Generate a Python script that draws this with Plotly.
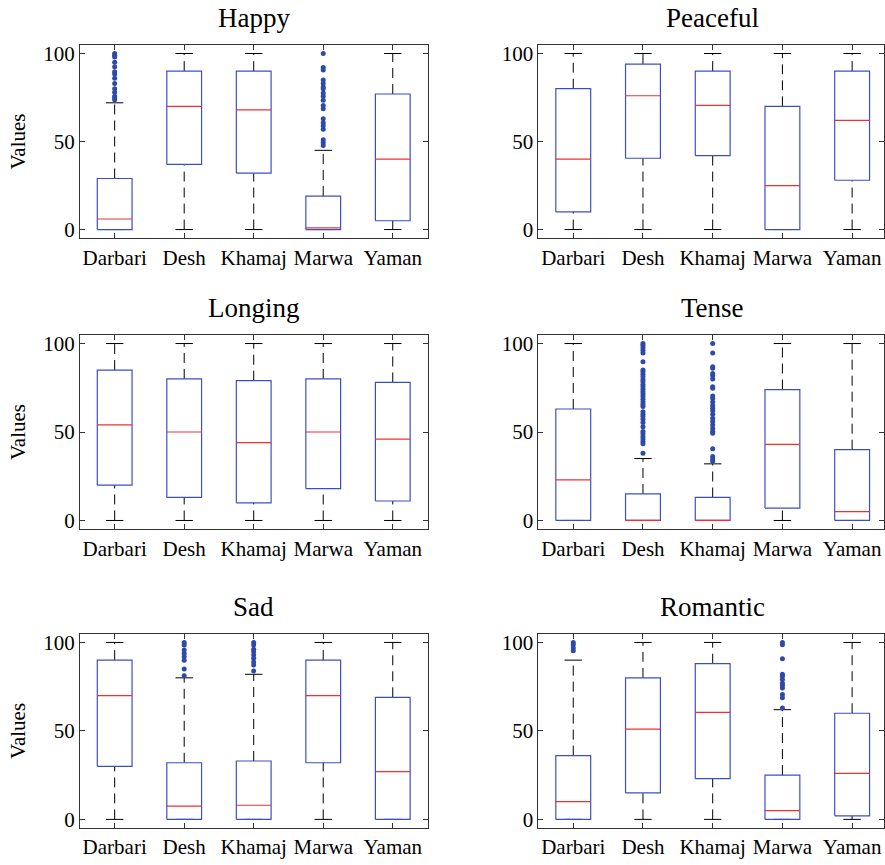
import plotly.graph_objects as go

categories = ["Darbari", "Desh", "Khamaj", "Marwa", "Yaman"]
panels = ["Happy", "Peaceful", "Longing", "Tense", "Sad", "Romantic"]
y_ticks = [0, 50, 100]

# ---- Happy ----
happy_q1 = [0, 37, 32, 0, 5]
happy_median = [6, 70, 68, 1, 40]
happy_q3 = [29, 90, 90, 19, 77]
happy_lower = [0, 0, 0, 0, 0]
happy_upper = [72, 100, 100, 45, 100]
happy_outliers = [
    [100, 99, 98, 95, 92.5, 89.7, 88.4, 86, 83, 80, 78, 75.7, 74.8, 73.8],
    [], [],
    [100, 92, 90.6, 85, 83, 81, 80, 77.6, 75.7, 73.5, 70.5, 68.6, 63, 60.7, 59, 57, 51, 49.5, 47.7],
    [],
]

# ---- Peaceful ----
peaceful_q1 = [10, 40.5, 42, 0, 28]
peaceful_median = [40, 76, 70.5, 25, 62]
peaceful_q3 = [80, 94, 90, 70, 90]
peaceful_lower = [0, 0, 0, 0, 0]
peaceful_upper = [100, 100, 100, 100, 100]
peaceful_outliers = [[], [], [], [], []]

# ---- Longing ----
longing_q1 = [20, 13, 10, 18, 11]
longing_median = [54, 50, 44, 50, 46]
longing_q3 = [85, 80, 79, 80, 78]
longing_lower = [0, 0, 0, 0, 0]
longing_upper = [100, 100, 100, 100, 100]
longing_outliers = [[], [], [], [], []]

# ---- Tense ----
tense_q1 = [0, 0, 0, 7, 0]
tense_median = [23, 0, 0, 43, 5]
tense_q3 = [63, 15, 13, 74, 40]
tense_lower = [0, 0, 0, 0, 0]
tense_upper = [100, 35, 32, 100, 100]
tense_outliers = [
    [],
    [100, 99, 97.6, 96.2, 94.7, 89.7, 85, 84, 82.6, 81.2, 79.7, 78.4, 76.9, 75.6, 74.1,
     72.8, 71.5, 70, 68.5, 67, 65.7, 64.4, 61.5, 60, 58.7, 57.2, 55.3, 53, 50.3, 49,
     47.5, 46, 44.7, 43.3, 38],
    [100, 94.7, 86.9, 86, 83, 82, 80, 75.6, 74.7, 70.4, 69, 67, 65, 63.4, 62, 60, 57.8,
     56, 54, 52, 50.3, 49.3, 40.5, 36.2, 34.7, 33.4],
    [], [],
]

# ---- Sad ----
sad_q1 = [30, 0, 0, 32, 0]
sad_median = [70, 7.5, 8, 70, 27]
sad_q3 = [90, 32, 33, 90, 69]
sad_lower = [0, 0, 0, 0, 0]
sad_upper = [100, 80, 82, 100, 100]
sad_outliers = [
    [],
    [100, 98.5, 95.7, 93.8, 91.9, 90, 85, 81.2],
    [100, 98.5, 96.2, 94.7, 92.9, 91, 89, 87.2, 83.9],
    [], [],
]

# ---- Romantic ----
romantic_q1 = [0, 15, 23, 0, 2]
romantic_median = [10, 51, 60.5, 5, 26]
romantic_q3 = [36, 80, 88, 25, 60]
romantic_lower = [0, 0, 0, 0, 0]
romantic_upper = [90, 100, 100, 62, 100]
romantic_outliers = [
    [100, 98.7, 96.8, 95.3],
    [], [],
    [100, 98.7, 90.8, 82, 80.9, 79, 77, 75.8, 74.3, 70.6, 68.7, 63],
    [],
]

panel_data = [
    (happy_q1, happy_median, happy_q3, happy_lower, happy_upper, happy_outliers),
    (peaceful_q1, peaceful_median, peaceful_q3, peaceful_lower, peaceful_upper, peaceful_outliers),
    (longing_q1, longing_median, longing_q3, longing_lower, longing_upper, longing_outliers),
    (tense_q1, tense_median, tense_q3, tense_lower, tense_upper, tense_outliers),
    (sad_q1, sad_median, sad_q3, sad_lower, sad_upper, sad_outliers),
    (romantic_q1, romantic_median, romantic_q3, romantic_lower, romantic_upper, romantic_outliers),
]

W, H = 885, 865
FONT = "Liberation Serif, Times New Roman, serif"
BOX_COLOR = "#3b4fc4"
MED_COLOR = "#f03030"
OUT_COLOR = "#2e4aa8"

col_x = [(80, 428), (539, 885)]
col_range = [[0.5, 5.5], [0.5, 5.5 - 3.0 / 70]]
row_y = [(42, 237), (334, 530), (635, 831)]

half_box = 0.25
half_cap = 0.125

fig = go.Figure()
layout_axes = {}
annotations = []

for i, (title, (q1, med, q3, lo, up, outs)) in enumerate(zip(panels, panel_data)):
    r, c = divmod(i, 2)
    sfx = "" if i == 0 else str(i + 1)
    xref, yref = "x" + sfx, "y" + sfx
    pos = list(range(1, len(categories) + 1))

    bx, by, mx, my, wx, wy, cx, cy, ox, oy = [], [], [], [], [], [], [], [], [], []
    for k, p in enumerate(pos):
        bx += [p - half_box, p + half_box, p + half_box, p - half_box, p - half_box, None]
        by += [q1[k], q1[k], q3[k], q3[k], q1[k], None]
        mx += [p - half_box, p + half_box, None]
        my += [med[k], med[k], None]
        if up[k] > q3[k]:
            wx += [p, p, None]
            wy += [q3[k], up[k], None]
        if lo[k] < q1[k]:
            wx += [p, p, None]
            wy += [lo[k], q1[k], None]
        cx += [p - half_cap, p + half_cap, None, p - half_cap, p + half_cap, None]
        cy += [up[k], up[k], None, lo[k], lo[k], None]
        ox += [p] * len(outs[k])
        oy += outs[k]

    common = dict(xaxis=xref, yaxis=yref, showlegend=False, hoverinfo="skip")
    fig.add_trace(go.Scatter(x=wx, y=wy, mode="lines",
                             line=dict(color="black", width=1, dash="10px,6px"), **common))
    fig.add_trace(go.Scatter(x=cx, y=cy, mode="lines",
                             line=dict(color="black", width=1), **common))
    fig.add_trace(go.Scatter(x=bx, y=by, mode="lines",
                             line=dict(color=BOX_COLOR, width=1.2), **common))
    fig.add_trace(go.Scatter(x=mx, y=my, mode="lines",
                             line=dict(color=MED_COLOR, width=1.2), **common))
    fig.add_trace(go.Scatter(x=ox, y=oy, mode="markers",
                             marker=dict(color=OUT_COLOR, size=5), **common))

    x0, x1 = col_x[c]
    ytop, ybot = row_y[r]
    xdom = [x0 / W, min(x1 / W, 1.0)]
    ydom = [1 - ybot / H, 1 - ytop / H]

    axis_common = dict(showgrid=False, zeroline=False, showline=True, linecolor="#333333",
                       linewidth=1, mirror="ticks", ticks="inside", ticklen=5,
                       tickcolor="#333333", tickfont=dict(family=FONT, size=21, color="black"))
    layout_axes["xaxis" + sfx] = dict(domain=xdom, range=col_range[c], tickmode="array",
                                      tickvals=pos, ticktext=categories, anchor=yref,
                                      **axis_common)
    layout_axes["yaxis" + sfx] = dict(domain=ydom, range=[-5, 105], tickmode="array",
                                      tickvals=y_ticks, ticktext=[str(t) for t in y_ticks],
                                      anchor=xref, **axis_common)

    annotations.append(dict(text=title, xref="paper", yref="paper",
                            x=(x0 + (888 if c == 1 else x1)) / 2 / W, y=ydom[1],
                            xanchor="center", yanchor="bottom", yshift=10, showarrow=False,
                            font=dict(family=FONT, size=27, color="black")))
    if c == 0:
        annotations.append(dict(text="Values", xref="paper", yref="paper",
                                x=18 / W, y=(ydom[0] + ydom[1]) / 2, xanchor="center",
                                yanchor="middle", textangle=-90, showarrow=False,
                                font=dict(family=FONT, size=21, color="black")))

fig.update_layout(width=W, height=H, margin=dict(l=0, r=0, t=0, b=0),
                  paper_bgcolor="white", plot_bgcolor="white",
                  annotations=annotations, **layout_axes)

fig.write_html("out.html", config={"displayModeBar": False},
               post_script="document.body.style.margin='0';document.body.style.padding='0';")
